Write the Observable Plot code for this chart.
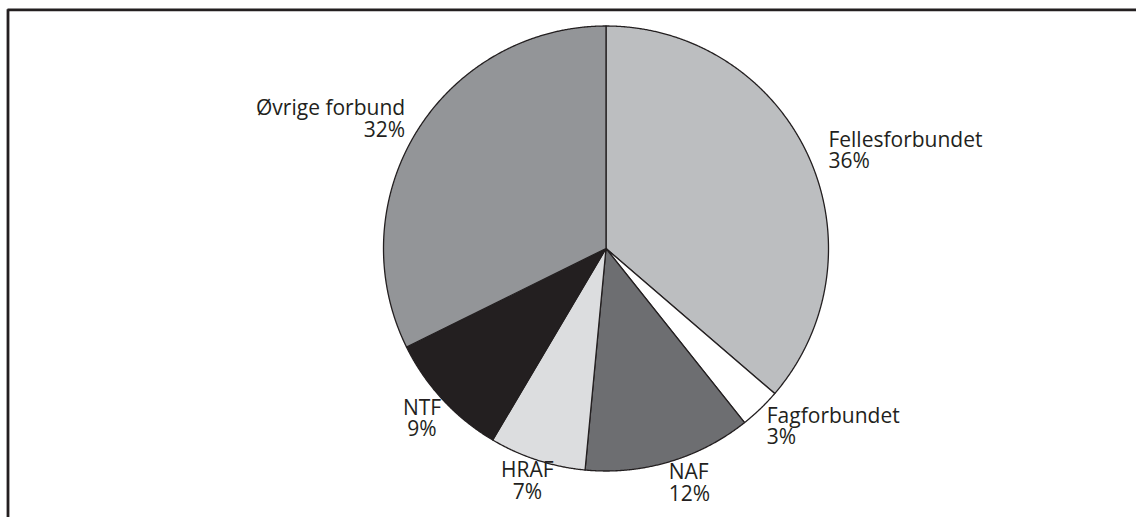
<!DOCTYPE html>
<html>
<head>
<meta charset="utf-8">
<script src="https://cdn.jsdelivr.net/npm/d3@7"></script>
<script src="https://cdn.jsdelivr.net/npm/@observablehq/plot@0.6"></script>
<style>
  html, body { margin: 0; padding: 0; background: #fff; }
  #chart svg { display: block; }
</style>
</head>
<body>
<div id="chart"></div>
<script>
// ---- data ----
const categories = ["Fellesforbundet", "Fagforbundet", "NAF", "HRAF", "NTF", "Øvrige forbund"];
const shares = [36.3, 3.0, 12.2, 7.0, 9.2, 32.3];

// ---- style ----
const sliceColors = ["#bcbec0", "#ffffff", "#6d6e71", "#dcdddf", "#231f20", "#939598"];
const labelAnchors = ["start", "start", "start", "middle", "middle", "end"];
const labelNudge = [[0, 4], [-9, 2], [-7, 0], [-3, 0], [-4.5, 4], [7, 0]]; // px
const ink = "#231f20";

// ---- layout ----
const W = 1136, H = 517;
const cx = 605.5, cy = 248, R = 222.5;       // pie centre / radius in px
const mLeft = 7.5, mTop = 9.3;
const xDomain = [(mLeft - cx) / R, (W - cx) / R];
const yDomain = [-(H - cy) / R, (cy - mTop) / R];
const labelK = 1.1;

// ---- build slices ----
const total = d3.sum(shares);
let acc = 0;
const slices = categories.map((name, i) => {
  const a0 = acc / total * 2 * Math.PI;
  acc += shares[i];
  const a1 = acc / total * 2 * Math.PI;
  const pts = [{x: 0, y: 0}];
  const n = Math.max(2, Math.ceil((a1 - a0) / (Math.PI / 720)));
  for (let j = 0; j <= n; j++) {
    const a = a0 + (a1 - a0) * j / n;
    pts.push({x: Math.sin(a), y: Math.cos(a)});
  }
  pts.push({x: 0, y: 0});
  const mid = (a0 + a1) / 2;
  return {
    name, pts, color: sliceColors[i],
    label: {
      x: labelK * Math.sin(mid) + labelNudge[i][0] / R,
      y: labelK * Math.cos(mid) - labelNudge[i][1] / R,
      text: `${name}\n${Math.round(shares[i])}%`
    },
    anchor: labelAnchors[i]
  };
});

const marks = [];
slices.forEach(s => {
  marks.push(Plot.line(s.pts, {x: "x", y: "y", fill: s.color, stroke: ink, strokeWidth: 1.3, strokeLinejoin: "round"}));
});
slices.forEach(s => {
  marks.push(Plot.text([s.label], {
    x: "x", y: "y", text: "text",
    textAnchor: s.anchor, lineAnchor: "middle", lineHeight: 1.02,
    fill: ink, fontSize: 21
  }));
});
// frame lines (top and left edges of the box)
marks.push(Plot.ruleY([yDomain[1]], {stroke: ink, strokeWidth: 2.8}));
marks.push(Plot.ruleX([xDomain[0]], {stroke: ink, strokeWidth: 2.8}));

const chart = Plot.plot({
  width: W, height: H,
  marginLeft: mLeft, marginTop: mTop, marginRight: 0, marginBottom: 0,
  style: {fontFamily: "'Open Sans', sans-serif", background: "#fff", overflow: "visible"},
  x: {domain: xDomain, axis: null},
  y: {domain: yDomain, axis: null},
  marks
});
document.getElementById("chart").appendChild(chart);
</script>
</body>
</html>
